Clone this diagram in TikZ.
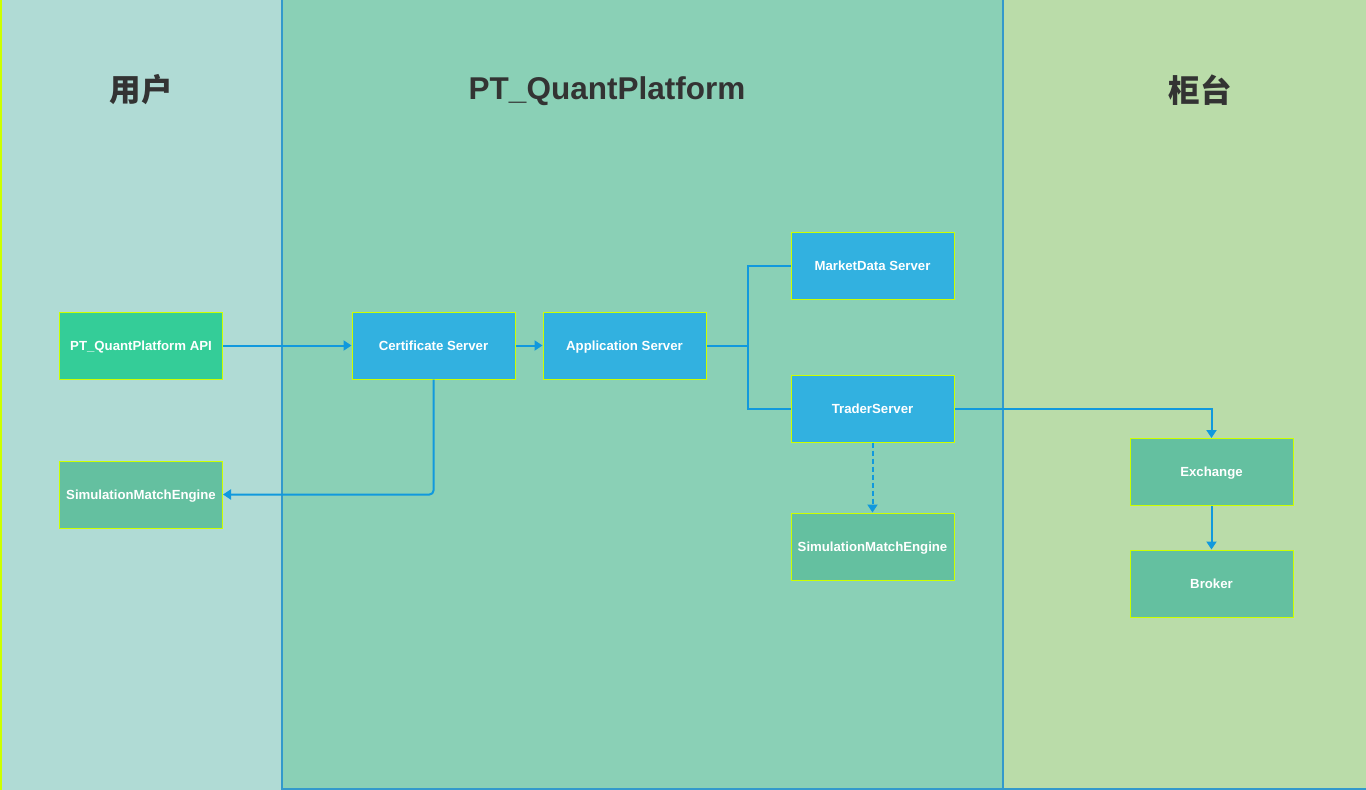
\documentclass[tikz,border=0pt]{standalone}
\usepackage{fontspec}
\setmainfont{Liberation Sans}
\newfontfamily\cjk{Noto Sans CJK SC}
\usetikzlibrary{arrows.meta}
\definecolor{laneuser}{HTML}{B0DBD5}
\definecolor{laneplat}{HTML}{8AD0B6}
\definecolor{lanecounter}{HTML}{BADCA9}
\definecolor{lanerule}{HTML}{3399CC}
\definecolor{boxedge}{HTML}{CCFF00}
\definecolor{apigreen}{HTML}{34CD98}
\definecolor{enginegreen}{HTML}{64C0A0}
\definecolor{serverblue}{HTML}{32B1E0}
\definecolor{linkblue}{HTML}{1199DD}
\definecolor{titlegray}{HTML}{333333}
\tikzset{
  box/.style={draw=boxedge, line width=1pt, minimum width=163pt, minimum height=67pt,
    inner sep=0pt, text height=9.5pt, text depth=0pt, text=white,
    font=\fontsize{13.2}{15}\selectfont\bfseries},
  server/.style={box, fill=serverblue},
  engine/.style={box, fill=enginegreen},
  link/.style={draw=linkblue, line width=2pt, -{Triangle[width=10pt,length=8pt]}},
  title/.style={text=titlegray, font=\fontsize{31.5}{36}\selectfont\bfseries}
}
\begin{document}
\begin{tikzpicture}[x=1pt,y=-1pt]
  \useasboundingbox (0,0) rectangle (1366,790);
  % lanes
  \fill[laneuser] (0,0) rectangle (282,790);
  \fill[laneplat] (282,0) rectangle (1003,790);
  \fill[lanecounter] (1003,0) rectangle (1366,790);
  \draw[boxedge, line width=1.5pt] (0.75,0) -- (0.75,790);
  \draw[lanerule, line width=1.5pt] (282,0) -- (282,790);
  \draw[lanerule, line width=2pt] (1003,0) -- (1003,790);
  \draw[lanerule, line width=2pt] (282,789) -- (1366,789);
  \node[title] (user) at (141,90) {\cjk\bfseries 用户};
  \node[title] (platform) at (607,91) {PT\_QuantPlatform};
  \node[title] (counter) at (1200,90) {\cjk\bfseries 柜台};

  \node[box, fill=apigreen] (api) at (141,345.5) {PT\_QuantPlatform API};
  \node[engine] (simuser) at (141,494.5) {SimulationMatchEngine};
  \node[server] (cert) at (433.5,345.5) {Certificate Server};
  \node[server] (app) at (624.5,345.5) {Application Server};
  \node[server] (market) at (872.5,265.5) {MarketData Server};
  \node[server] (trader) at (872.5,408.5) {TraderServer};
  \node[engine] (simplat) at (872.5,546.5) {SimulationMatchEngine};
  \node[engine] (exchange) at (1211.5,472) {Exchange};
  \node[engine] (broker) at (1211.5,583.5) {Broker};

  \coordinate (fork) at (748,345.5);
  \draw[link] (api) -- (cert);
  \draw[link] (cert) -- (app);
  \draw[link, rounded corners=4pt] (cert.south) |- (simuser.east);
  \draw[link, -] (app.east) -- (fork) |- (market.west);
  \draw[link, -] (fork) |- (trader.west);
  \draw[link, dash pattern=on 5pt off 3pt] (trader.south) -- (simplat.north);
  \draw[link] (trader.east) -| (exchange.north);
  \draw[link] (exchange) -- (broker);
\end{tikzpicture}
\end{document}
